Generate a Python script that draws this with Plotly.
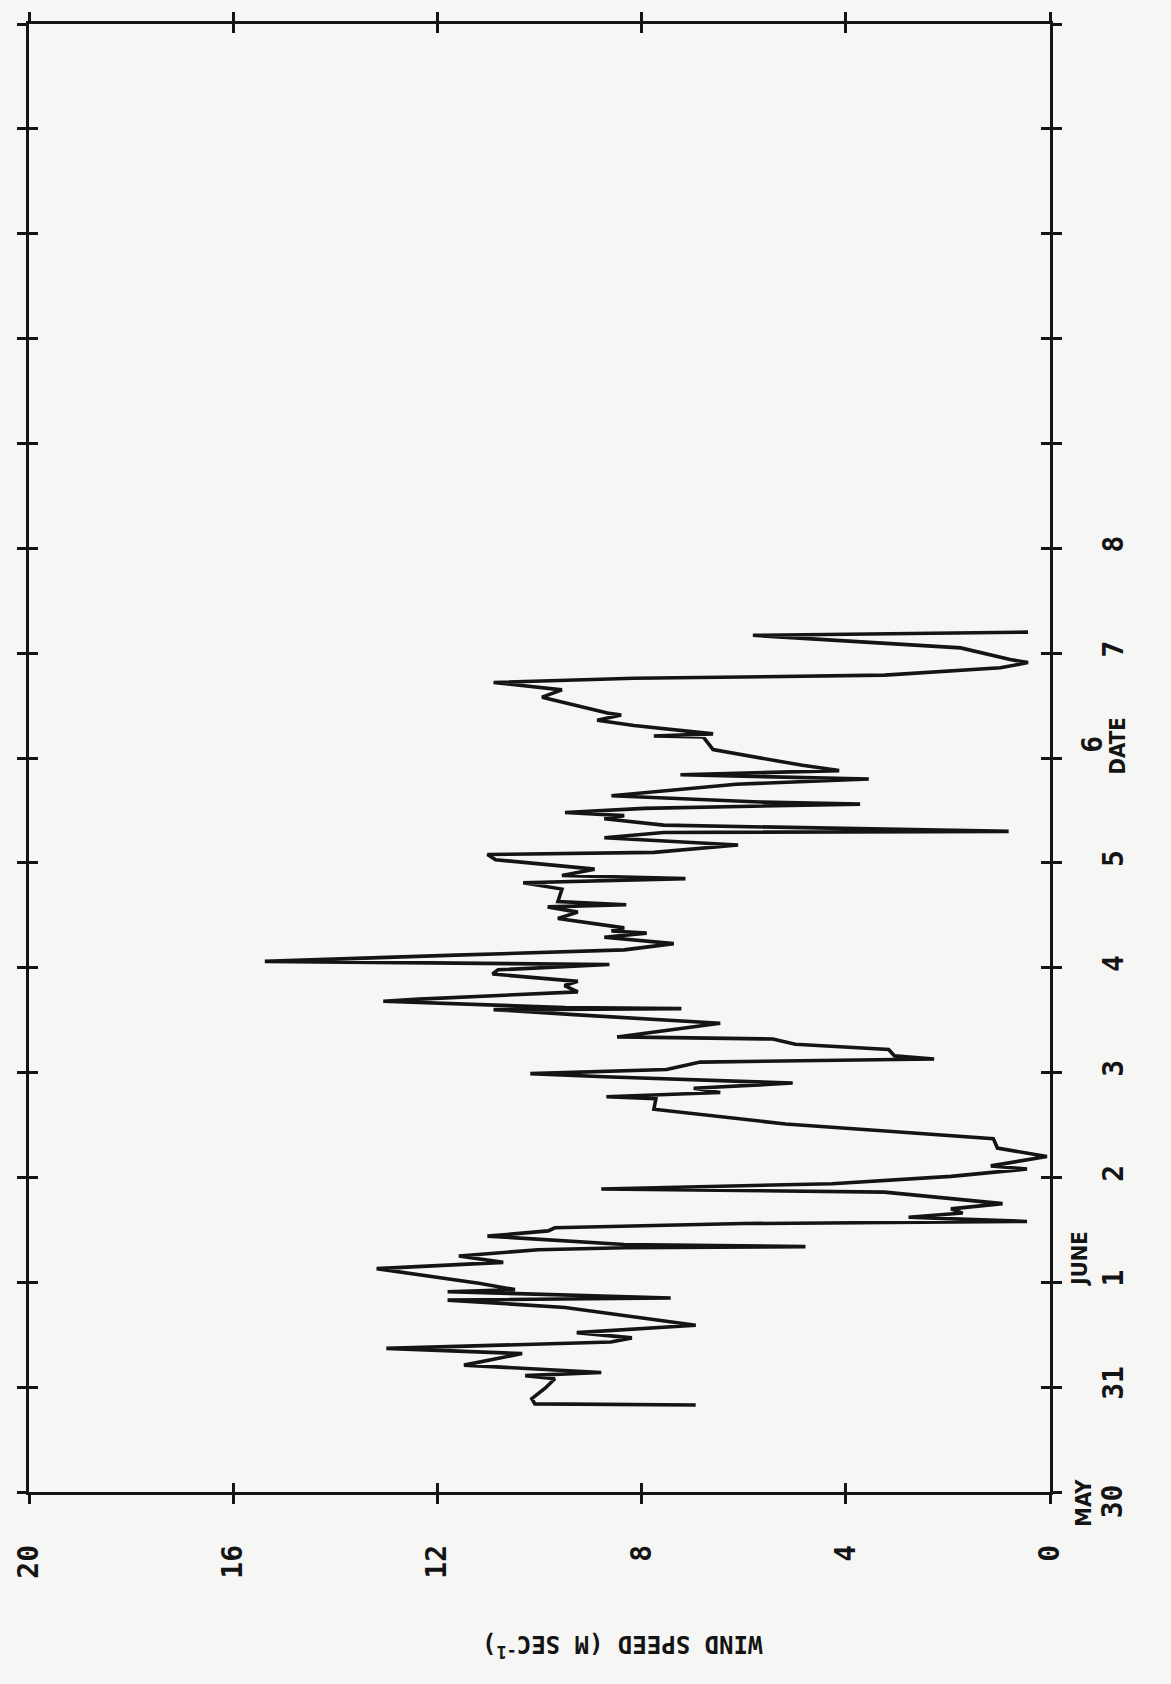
import plotly.graph_objects as go

# ---- data ----
# time in days after 00:00 on 30 May; wind speed in m/s
days = [0.83,0.84,0.89,0.99,1.08,1.11,1.14,1.17,1.21,1.32,
        1.37,1.43,1.47,1.52,1.59,1.76,1.83,1.85,1.91,1.93,
        1.99,2.13,2.19,2.25,2.31,2.33,2.34,2.36,2.44,2.49,
        2.52,2.56,2.58,2.60,2.62,2.66,2.70,2.75,2.78,2.84,
        2.86,2.89,2.94,3.01,3.08,3.11,3.20,3.28,3.37,3.44,
        3.51,3.65,3.75,3.77,3.81,3.85,3.90,3.96,3.99,4.03,
        4.10,4.13,4.16,4.22,4.27,4.32,4.34,4.47,4.49,4.55,
        4.60,4.61,4.62,4.68,4.70,4.77,4.83,4.87,4.94,4.98,
        5.03,5.06,5.12,5.17,5.23,5.29,5.33,5.35,5.38,5.47,
        5.53,5.58,5.60,5.63,5.75,5.81,5.85,5.88,5.94,6.03,
        6.08,6.10,6.17,6.22,6.24,6.29,6.30,6.36,6.42,6.45,
        6.48,6.52,6.56,6.58,6.64,6.75,6.80,6.84,6.88,6.93,
        7.08,7.20,7.21,7.23,7.26,7.31,7.36,7.41,7.43,7.58,
        7.65,7.72,7.76,7.79,7.86,7.91,7.94,8.05,8.17,8.20]

speed = [6.94,10.09,10.15,9.89,9.70,10.28,8.79,9.83,11.48,10.34,
         13.0,8.6,8.19,9.27,6.94,9.5,11.8,7.43,11.8,10.48,
         11.19,13.19,10.71,11.58,10.03,8.34,4.79,8.34,11.02,9.83,
         9.70,6.01,0.45,1.61,2.77,1.71,1.94,0.93,1.61,2.97,
         3.24,8.79,4.27,1.94,0.45,1.16,0.06,1.03,1.11,3.16,
         5.18,7.76,7.72,8.69,6.46,6.98,5.04,8.73,10.18,7.51,
         6.85,2.27,3.05,3.16,4.99,5.43,8.48,6.46,7.24,9.25,
         10.9,7.22,9.5,13.06,12.36,9.25,9.51,9.25,10.92,10.81,
         8.63,15.38,11.64,8.34,7.37,8.73,7.90,8.59,8.34,9.64,
         9.25,9.84,8.30,9.64,9.56,10.32,7.14,9.56,8.92,10.86,
         11.02,7.76,6.11,7.95,8.73,7.57,0.81,7.57,8.73,8.34,
         9.5,7.95,3.72,5.68,8.59,6.15,3.55,7.24,4.13,4.85,
         6.60,6.79,7.76,6.60,7.18,8.15,8.87,8.40,8.67,9.95,
         9.56,10.90,8.15,3.24,0.97,0.43,0.78,1.75,5.82,0.43]

speed_ticks = [0, 4, 8, 12, 16, 20]
speed_labels = ["0", "4", "8", "12", "16", "20"]
day_ticks = list(range(0, 15))                 # 30 May .. 13 June
day_label_vals = [1, 2, 3, 4, 5, 6, 8, 9]
day_label_text = ["31", "1", "2", "3", "4", "5", "7", "8"]

# ---- layout geometry (pixels) ----
W, H = 1171, 1684
L, R, T, B = 19, 1050, 18, 1492

def px(xp):
    return (xp - L) / (R - L)

def py(yp):
    return (B - yp) / (B - T)

INK = "#141414"
BG = "#f6f6f4"
FONT = "DejaVu Sans Mono"
NARROW = "DejaVu Sans Condensed, DejaVu Sans"

fig = go.Figure()
fig.add_trace(go.Scatter(x=speed, y=days, mode="lines",
                         line=dict(color=INK, width=3.6),
                         hoverinfo="skip", showlegend=False))
# companion (invisible) traces so the overlay axes are drawn
for xa, ya in (("x2", "y2"), ("x", "y3")):
    fig.add_trace(go.Scatter(x=speed, y=days, mode="lines", xaxis=xa, yaxis=ya,
                             line=dict(color="rgba(0,0,0,0)", width=0),
                             hoverinfo="skip", showlegend=False))

tick_common = dict(showgrid=False, zeroline=False, ticklen=9, tickwidth=2.5,
                   tickcolor=INK)
digit_font = dict(family=FONT, size=28, color=INK, weight="bold")

fig.update_layout(
    width=W, height=H,
    margin=dict(l=L, r=W - R, t=T, b=H - B),
    paper_bgcolor=BG, plot_bgcolor=BG,
    xaxis=dict(range=[20, 0], tickvals=speed_ticks, ticktext=speed_labels,
               ticks="outside", mirror="ticks", showline=True, linewidth=2.5,
               linecolor=INK, tickangle=-90, ticklabelstandoff=30,
               tickfont=digit_font, **tick_common),
    yaxis=dict(range=[0, 14], tickvals=day_ticks, side="right",
               ticks="outside", mirror="ticks", showline=True,
               linewidth=2.5, linecolor=INK, showticklabels=False,
               **tick_common),
    xaxis2=dict(range=[20, 0], tickvals=speed_ticks, overlaying="x",
                anchor="y2", ticks="inside", mirror="ticks", showline=False,
                showticklabels=False, **tick_common),
    yaxis2=dict(range=[0, 14], tickvals=day_ticks, overlaying="y",
                anchor="x2", side="right", ticks="inside", mirror="ticks",
                showline=False, showticklabels=False, **tick_common),
    yaxis3=dict(range=[0, 14], tickvals=day_label_vals, ticktext=day_label_text,
                overlaying="y", anchor="x", side="right", ticks="",
                showline=False, showgrid=False, zeroline=False,
                tickangle=-90, ticklabelstandoff=44, tickfont=digit_font),
)

annos = [
    dict(text="WIND SPEED (M SEC<sup>-1</sup>)", x=px(618), y=py(1646),
         textangle=180, font=dict(family=FONT, size=24, color=INK, weight="bold")),
    dict(text="30", x=px(1114), y=py(1501), textangle=-90, font=digit_font),
    dict(text="MAY", x=px(1084), y=py(1503), textangle=-90,
         font=dict(family=NARROW, size=22, color=INK, weight="bold")),
    dict(text="JUNE", x=px(1080), y=py(1258), textangle=-90,
         font=dict(family=NARROW, size=22, color=INK, weight="bold")),
    dict(text="6", x=px(1092), y=py(741), textangle=-90, font=digit_font),
    dict(text="DATE", x=px(1118), y=py(743), textangle=-90,
         font=dict(family=NARROW, size=22, color=INK, weight="bold")),
]
for a in annos:
    fig.add_annotation(xref="paper", yref="paper", showarrow=False,
                       xanchor="center", yanchor="middle", **a)

fig.write_html("out.html")
